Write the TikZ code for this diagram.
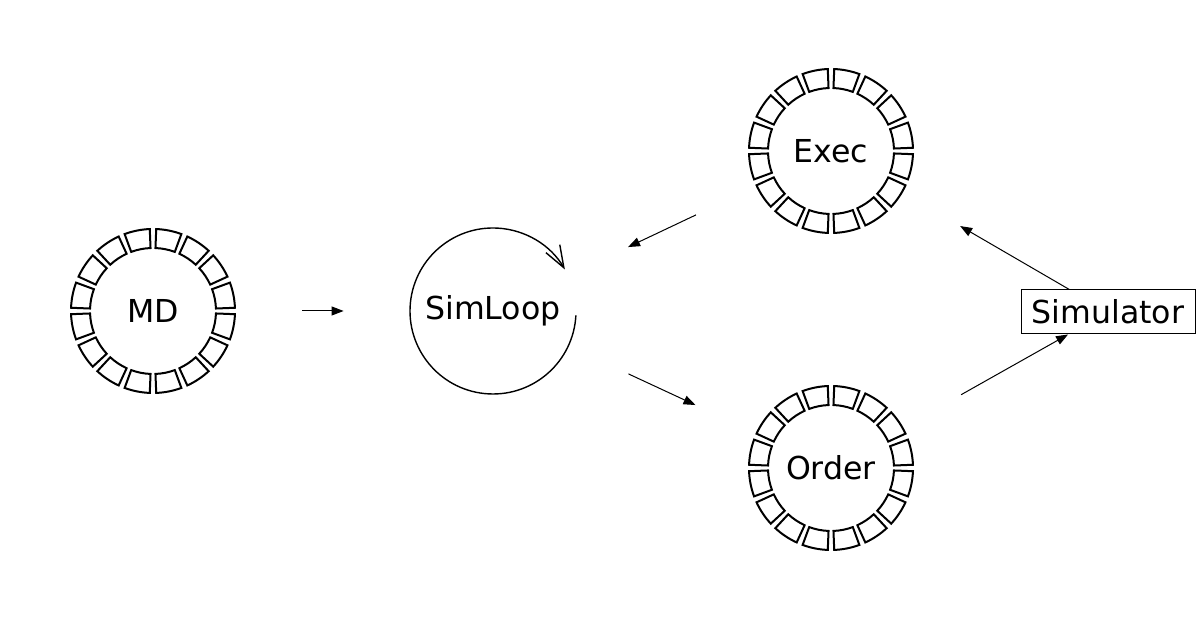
\documentclass[tikz,border=0pt]{standalone}
\usepackage{fontspec}
\setmainfont{DejaVu Sans}
\usetikzlibrary{arrows.meta}

\tikzset{
  buf/.style={circle,minimum size=83pt,inner sep=0pt,font=\fontsize{15.8}{19}\selectfont},
  seg/.style={line width=1pt},
  link/.style={-{Triangle[length=6pt,width=4.5pt]},line width=0.5pt},
  gap/.style={shorten <=33pt,shorten >=33pt},
}

\begin{document}
\begin{tikzpicture}[x=1pt,y=1pt]
  \useasboundingbox (0,0) rectangle (600,312.5);
  \node[buf] (md) at (76.5,157) {MD};
  \node[buf] (simloop) at (246.5,157) {SimLoop};
  \node[buf] (exec) at (415.5,237) {Exec};
  \node[buf] (order) at (415.5,78.5) {Order};
  \node[draw,line width=0.5pt,minimum width=87pt,minimum height=22pt,inner sep=0pt,
    font=\fontsize{15.8}{19}\selectfont] (simulator) at (554,156.5) {Simulator};
  % ring buffers
  \foreach \r in {md,exec,order}
  {
    \foreach \k in {0,...,15}
    {
      \pgfmathsetmacro\a{\k*22.5+2.25}
      \pgfmathsetmacro\b{\a+18}
      \draw[seg,shift={(\r)}] (\a:41) arc[start angle=\a,end angle=\b,radius=41]
        -- (\b:31.5) arc[start angle=\b,end angle=\a,radius=31.5] -- cycle;
    }
  }
  % the loop
  \draw[line width=0.7pt,-{Straight Barb[length=11pt,width=8pt]}] (simloop.center) ++(-3:41.5)
    arc[start angle=-3,end angle=-330,radius=41.5];
  \draw[link,gap] (md) -- (simloop);
  \draw[link,gap] (exec) -- (simloop);
  \draw[link,gap] (simloop) -- (order);
  \draw[link,shorten >=33pt] (simulator) -- (exec);
  \draw[link,shorten <=33pt] (order) -- (simulator);
\end{tikzpicture}
\end{document}
